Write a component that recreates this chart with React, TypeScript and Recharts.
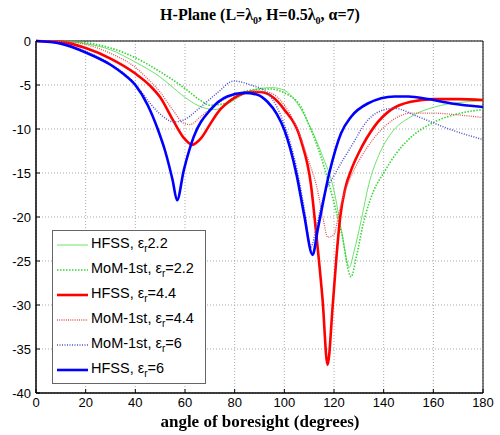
import { LineChart, Line, XAxis, YAxis, CartesianGrid, ReferenceArea } from "recharts";

// [angle (deg), gain (dB)]
const hfss22: [number, number][] = [
  [0, 0], [10, -0.05], [20, -0.3], [30, -1.0], [40, -2.4], [50, -4.1], [54, -5.0], [60, -6.4], [65, -7.3],
  [72, -7.8], [77, -7.2], [81, -6.5], [86, -5.7], [90, -5.4], [95, -5.3], [100, -5.6], [105, -7.0],
  [110, -9.5], [115, -12.8], [120, -17.0], [123, -21.5], [126.2, -25.7], [128, -24], [131, -20.3],
  [134, -16.3], [138, -13.0], [143, -10.5], [151, -8.6], [160.5, -7.5], [170, -7.0], [180, -6.8],
];

const mom22: [number, number][] = [
  [0, 0], [10, -0.03], [20, -0.2], [30, -0.8], [40, -1.9], [50, -3.5], [55, -4.4], [60, -5.4], [66, -6.7],
  [70, -7.3], [76, -7.1], [81, -6.1], [86, -5.6], [94, -5.45], [100, -5.9], [106.7, -7.5], [110, -9.6],
  [114.7, -13.1], [120, -18.4], [123, -21.8], [126.9, -26.8], [129, -24.5], [132, -20.5], [136, -17.0],
  [140, -15.0], [145, -12.8], [150, -11.2], [160.5, -9.2], [171, -8.2], [180, -7.8],
];

const hfss44: [number, number][] = [
  [0, 0], [10, -0.1], [20, -0.8], [30, -2.0], [40, -3.7], [46, -5.1], [50, -6.4], [55, -8.9], [59.5, -11.0],
  [62.9, -11.8], [66.3, -11.1], [70, -9.5], [73, -8.2], [79.7, -6.5], [86.5, -5.8], [90, -5.8], [95, -6.3],
  [100, -7.8], [106.7, -11.3], [110.7, -16.3], [112.7, -21.5], [115.4, -29.4], [117.4, -36.8], [119.5, -30],
  [121, -24.5], [122.5, -20], [124.5, -16.8], [127, -14.6], [130, -12.7], [136.3, -9.7], [143, -7.8],
  [151, -6.9], [160, -6.6], [170, -6.6], [180, -6.7],
];

const mom44: [number, number][] = [
  [0, 0], [10, -0.05], [20, -0.4], [30, -1.4], [40, -3.0], [45, -4.3], [50, -5.8], [55, -7.8], [59.5, -9.35],
  [62, -9.5], [66.3, -8.6], [73, -7.1], [79.7, -6.1], [86.5, -5.7], [93.2, -5.8], [100, -7.3], [105, -9.8],
  [110, -13.8], [113, -16.5], [115.5, -20], [117.5, -22.3], [120, -22.0], [122, -19.5], [124.5, -17],
  [127, -15.3], [133.6, -12], [141.7, -9.4], [151, -8.2], [160, -8.2], [170, -8.4], [180, -8.7],
];

const mom6: [number, number][] = [
  [0, 0], [10, -0.25], [20, -1.2], [30, -2.6], [35, -3.6], [40, -4.9], [46, -7.1], [50, -8.3], [55.5, -9.2],
  [60, -8.9], [66.3, -7.5], [73, -5.9], [79.7, -4.55], [86.5, -5.0], [93.2, -5.9], [97, -7.5], [100, -9.5],
  [105, -14.5], [108, -19], [110.7, -23.4], [113, -21], [116, -17.5], [120, -15.3], [126.9, -12], [133.6, -9.0],
  [140.3, -7.8], [144.4, -7.65], [153.8, -8.6], [167.3, -10.1], [180, -11.2],
];

const hfss6: [number, number][] = [
  [0, 0], [10, -0.3], [20, -1.3], [30, -2.7], [35, -3.7], [40, -5.0], [45, -7.3], [49, -10.0], [52, -12.5],
  [55, -15.8], [56.8, -18.1], [59.5, -14.7], [63.5, -10.9], [70.3, -7.8], [77, -6.3], [83.8, -5.9], [89.2, -6.1],
  [93.2, -6.9], [97, -8.3], [100, -10.1], [105, -15.3], [108, -19.8], [111.4, -24.3], [113.4, -21.5],
  [118.1, -15], [122.8, -10.5], [126.9, -8.6], [133.6, -7.1], [144.4, -6.3], [150, -6.3], [157.9, -6.6],
  [167.3, -7.1], [180, -7.5],
];

const xTicks = [0, 20, 40, 60, 80, 100, 120, 140, 160, 180];
const yTicks = [0, -5, -10, -15, -20, -25, -30, -35, -40];

const toRows = (pts: [number, number][]) => pts.map(([x, y]) => ({ x, y }));

const series = [
  { name: "HFSS, ", eps: "2.2", data: hfss22, color: "#6be36b", width: 1, dash: undefined },
  { name: "MoM-1st, ", eps: "=2.2", data: mom22, color: "#33d633", width: 1.6, dash: "1.5 1.5" },
  { name: "HFSS, ", eps: "=4.4", data: hfss44, color: "#ff0000", width: 2.6, dash: undefined },
  { name: "MoM-1st, ", eps: "=4.4", data: mom44, color: "#dd5a5a", width: 1.3, dash: "1 1.2" },
  { name: "MoM-1st, ", eps: "=6", data: mom6, color: "#5050c8", width: 1.5, dash: "1 1.5" },
  { name: "HFSS, ", eps: "=6", data: hfss6, color: "#0000ff", width: 2.6, dash: undefined },
];

const tickStyle = { fontSize: 13, fill: "#000", fontFamily: "Liberation Sans, Arial, sans-serif" };

export default function App() {
  return (
    <div style={{ position: "fixed", left: 0, top: 0, width: 500, height: 435, background: "#fff" }}>
      <div style={{ position: "absolute", left: 0, top: 6, width: 520, textAlign: "center", fontFamily: "Liberation Serif, Times New Roman, serif", fontWeight: "bold", fontSize: 16 }}>
        H-Plane (L=λ<sub style={{ fontSize: 10 }}>0</sub>, H=0.5λ<sub style={{ fontSize: 10 }}>0</sub>, α=7)
      </div>
      <LineChart width={500} height={435} data={toRows(hfss6)} margin={{ top: 41, right: 17, bottom: 22, left: 6 }}>
        <CartesianGrid stroke="#aaa" strokeDasharray="1 2" />
        <XAxis type="number" dataKey="x" domain={[0, 180]} ticks={xTicks} tick={tickStyle}
          tickSize={-4} tickMargin={9} axisLine={{ stroke: "#000" }} tickLine={{ stroke: "#000" }} height={20} />
        <XAxis xAxisId="top" type="number" orientation="top" domain={[0, 180]} ticks={xTicks} tick={false}
          tickSize={-4} height={0} axisLine={{ stroke: "#000" }} tickLine={{ stroke: "#000" }} />
        <YAxis type="number" domain={[-40, 0]} ticks={yTicks} tick={tickStyle} tickSize={-4} tickMargin={9}
          width={30} axisLine={{ stroke: "#000" }} tickLine={{ stroke: "#000" }} />
        <YAxis yAxisId="right" type="number" orientation="right" domain={[-40, 0]} ticks={yTicks} tick={false}
          tickSize={-4} width={0} axisLine={{ stroke: "#000" }} tickLine={{ stroke: "#000" }} />
        {series.map((s, i) => (
          <Line key={i} data={toRows(s.data)} dataKey="y" type="monotone" stroke={s.color} strokeWidth={s.width}
            strokeDasharray={s.dash} dot={false} activeDot={false} isAnimationActive={false} />
        ))}
        <ReferenceArea x1={0} x2={180} y1={-40} y2={0} fill="none" stroke="#000" strokeWidth={1} />
      </LineChart>
      <div style={{ position: "absolute", left: 52, top: 230, width: 154, height: 154, border: "1px solid #666", background: "#fff", boxSizing: "border-box", paddingTop: 1, fontFamily: "Liberation Sans, Arial, sans-serif", fontSize: 14.5 }}>
        {series.map((s, i) => (
          <div key={i} style={{ height: 25, display: "flex", alignItems: "center" }}>
            <svg width={31} height={10} style={{ marginLeft: 4, marginRight: 3 }}>
              <line x1={0} y1={5} x2={31} y2={5} stroke={s.color} strokeWidth={s.width} strokeDasharray={s.dash} />
            </svg>
            <span style={{ whiteSpace: "nowrap" }}>
              {s.name}ε<sub style={{ fontSize: 10 }}>r</sub>{s.eps}
            </span>
          </div>
        ))}
      </div>
      <div style={{ position: "absolute", left: 0, top: 412, width: 520, textAlign: "center", fontFamily: "Liberation Serif, Times New Roman, serif", fontWeight: "bold", fontSize: 17, lineHeight: "20px" }}>
        angle of boresight (degrees)
      </div>
    </div>
  );
}
